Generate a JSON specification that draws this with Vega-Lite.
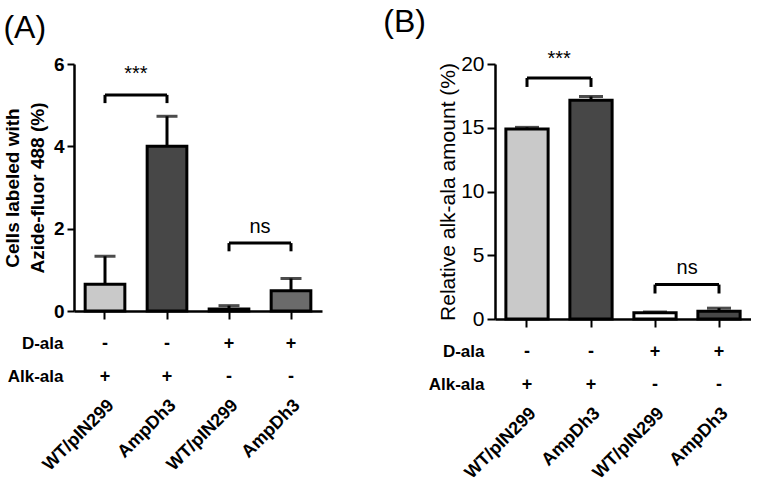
{
  "$schema": "https://vega.github.io/schema/vega-lite/v6.json",
  "padding": {"left": 3, "top": 5, "right": 0, "bottom": 0},
  "background": "white",
  "config": {
    "view": {"stroke": null},
    "font": "Liberation Sans",
    "axis": {"grid": false, "labelColor": "black", "titleColor": "black", "domainColor": "black", "tickColor": "black", "labelFont": "Liberation Sans", "titleFont": "Liberation Sans"},
    "title": {"font": "Liberation Sans", "color": "black"}
  },
  "datasets": {
    "barsA": [
      {"id": "g1", "value": 0.65, "err": 1.33},
      {"id": "g2", "value": 4.0, "err": 4.73},
      {"id": "g3", "value": 0.05, "err": 0.13},
      {"id": "g4", "value": 0.49, "err": 0.79}
    ],
    "barsB": [
      {"id": "g1", "value": 14.9, "err": 15.03},
      {"id": "g2", "value": 17.15, "err": 17.45},
      {"id": "g3", "value": 0.5, "err": 0.55},
      {"id": "g4", "value": 0.6, "err": 0.85}
    ],
    "sigA": [
      {"x": "g1", "x2": "g2", "y": 5.25, "ylow": 5.05, "ytext": 5.75, "label": "***"},
      {"x": "g3", "x2": "g4", "y": 1.65, "ylow": 1.45, "ytext": 2.05, "label": "ns"}
    ],
    "sigB": [
      {"x": "g1", "x2": "g2", "y": 18.9, "ylow": 18.2, "ytext": 20.4, "label": "***"},
      {"x": "g3", "x2": "g4", "y": 2.7, "ylow": 2.0, "ytext": 4.0, "label": "ns"}
    ],
    "cond": [
      {"id": "g1", "cond": "D-ala", "sign": "-"},
      {"id": "g2", "cond": "D-ala", "sign": "-"},
      {"id": "g3", "cond": "D-ala", "sign": "+"},
      {"id": "g4", "cond": "D-ala", "sign": "+"},
      {"id": "g1", "cond": "Alk-ala", "sign": "+"},
      {"id": "g2", "cond": "Alk-ala", "sign": "+"},
      {"id": "g3", "cond": "Alk-ala", "sign": "-"},
      {"id": "g4", "cond": "Alk-ala", "sign": "-"}
    ]
  },
  "resolve": {"scale": {"x": "independent", "y": "independent", "color": "independent"}},
  "spacing": 61,
  "hconcat": [
    {
      "title": {"text": "(A)", "anchor": "start", "frame": "bounds", "fontSize": 32, "fontWeight": "normal", "offset": 10},
      "spacing": 6,
      "resolve": {"scale": {"x": "independent", "y": "independent"}},
      "vconcat": [
        {
          "width": 248,
          "height": 247,
          "layer": [
            {
              "data": {"name": "barsA"},
              "mark": {"type": "rule", "strokeWidth": 3, "color": "black"},
              "encoding": {
                "x": {"field": "id", "type": "nominal", "scale": {"type": "band", "domain": ["g1", "g2", "g3", "g4"], "paddingInner": 0.36, "paddingOuter": 0.18},
                  "axis": {"labels": false, "title": null, "domainWidth": 2.5, "tickWidth": 2, "tickSize": 8}},
                "y": {"field": "value", "type": "quantitative", "scale": {"domain": [0, 6], "nice": false},
                  "axis": {"values": [0, 2, 4, 6], "title": ["Cells labeled with", "Azide-fluor 488 (%)"], "titleFontSize": 19, "titleFontWeight": "bold", "titleLineHeight": 25, "titlePadding": 6,
                    "labelFontSize": 19, "labelFontWeight": "bold", "labelPadding": 3, "tickSize": 7, "tickWidth": 2, "domainWidth": 2.5}},
                "y2": {"field": "err"}
              }
            },
            {
              "data": {"name": "barsA"},
              "mark": {"type": "bar", "stroke": "black", "strokeWidth": 3},
              "encoding": {
                "x": {"field": "id", "type": "nominal"},
                "y": {"field": "value", "type": "quantitative"},
                "color": {"field": "id", "type": "nominal", "scale": {"domain": ["g1", "g2", "g3", "g4"], "range": ["#c9c9c9", "#474747", "#1a1a1a", "#6b6b6b"]}, "legend": null}
              }
            },
            {
              "data": {"name": "barsA"},
              "mark": {"type": "tick", "color": "black", "thickness": 3, "size": 21},
              "encoding": {
                "x": {"field": "id", "type": "nominal"},
                "y": {"field": "err", "type": "quantitative"}
              }
            },
            {
              "data": {"name": "sigA"},
              "mark": {"type": "rule", "strokeWidth": 3, "color": "black"},
              "encoding": {"x": {"field": "x", "type": "nominal"}, "x2": {"field": "x2"}, "y": {"field": "y", "type": "quantitative"}}
            },
            {
              "data": {"name": "sigA"},
              "mark": {"type": "rule", "strokeWidth": 3, "color": "black"},
              "encoding": {"x": {"field": "x", "type": "nominal"}, "y": {"field": "ylow", "type": "quantitative"}, "y2": {"field": "y"}}
            },
            {
              "data": {"name": "sigA"},
              "mark": {"type": "rule", "strokeWidth": 3, "color": "black"},
              "encoding": {"x": {"field": "x2", "type": "nominal"}, "y": {"field": "ylow", "type": "quantitative"}, "y2": {"field": "y"}}
            },
            {
              "data": {"name": "sigA"},
              "mark": {"type": "text", "fontSize": 20, "color": "black", "baseline": "middle"},
              "encoding": {"x": {"field": "x", "type": "nominal", "bandPosition": 1.28}, "y": {"field": "ytext", "type": "quantitative"}, "text": {"field": "label"}}
            }
          ]
        },
        {
          "width": 248,
          "height": 66,
          "data": {"name": "cond"},
          "mark": {"type": "text", "fontSize": 18, "fontWeight": "bold", "color": "black"},
          "encoding": {
            "x": {"field": "id", "type": "nominal", "scale": {"type": "band", "domain": ["g1", "g2", "g3", "g4"], "paddingInner": 0.36, "paddingOuter": 0.18},
              "axis": {"title": null, "ticks": false, "domain": false, "labelAngle": -45, "labelFontSize": 18, "labelFontWeight": "bold", "labelPadding": 3,
                "labelExpr": "datum.value == 'g1' || datum.value == 'g3' ? 'WT/pIN299' : 'AmpDh3'"}},
            "y": {"field": "cond", "type": "nominal", "sort": ["D-ala", "Alk-ala"],
              "axis": {"title": null, "ticks": false, "domain": false, "labelFontSize": 17, "labelFontWeight": "bold", "labelPadding": 11}},
            "text": {"field": "sign"}
          }
        }
      ]
    },
    {
      "title": {"text": "(B)", "anchor": "start", "frame": "bounds", "fontSize": 32, "fontWeight": "normal", "offset": 10, "dx": -45},
      "spacing": 6,
      "resolve": {"scale": {"x": "independent", "y": "independent"}},
      "vconcat": [
        {
          "width": 256,
          "height": 255,
          "layer": [
            {
              "data": {"name": "barsB"},
              "mark": {"type": "rule", "strokeWidth": 3, "color": "black"},
              "encoding": {
                "x": {"field": "id", "type": "nominal", "scale": {"type": "band", "domain": ["g1", "g2", "g3", "g4"], "paddingInner": 0.34, "paddingOuter": 0.17},
                  "axis": {"labels": false, "title": null, "domainWidth": 2.5, "tickWidth": 2, "tickSize": 8}},
                "y": {"field": "value", "type": "quantitative", "scale": {"domain": [0, 20], "nice": false},
                  "axis": {"values": [0, 5, 10, 15, 20], "title": "Relative alk-ala amount (%)", "titleFontSize": 21, "titleFontWeight": "normal", "titlePadding": 2,
                    "labelFontSize": 21, "labelFontWeight": "normal", "labelPadding": 3, "tickSize": 8, "tickWidth": 2, "domainWidth": 2.5}},
                "y2": {"field": "err"}
              }
            },
            {
              "data": {"name": "barsB"},
              "mark": {"type": "bar", "stroke": "black", "strokeWidth": 3},
              "encoding": {
                "x": {"field": "id", "type": "nominal"},
                "y": {"field": "value", "type": "quantitative"},
                "color": {"field": "id", "type": "nominal", "scale": {"domain": ["g1", "g2", "g3", "g4"], "range": ["#c9c9c9", "#474747", "#ffffff", "#474747"]}, "legend": null}
              }
            },
            {
              "data": {"name": "barsB"},
              "mark": {"type": "tick", "color": "black", "thickness": 3, "size": 24},
              "encoding": {
                "x": {"field": "id", "type": "nominal"},
                "y": {"field": "err", "type": "quantitative"}
              }
            },
            {
              "data": {"name": "sigB"},
              "mark": {"type": "rule", "strokeWidth": 3, "color": "black"},
              "encoding": {"x": {"field": "x", "type": "nominal"}, "x2": {"field": "x2"}, "y": {"field": "y", "type": "quantitative"}}
            },
            {
              "data": {"name": "sigB"},
              "mark": {"type": "rule", "strokeWidth": 3, "color": "black"},
              "encoding": {"x": {"field": "x", "type": "nominal"}, "y": {"field": "ylow", "type": "quantitative"}, "y2": {"field": "y"}}
            },
            {
              "data": {"name": "sigB"},
              "mark": {"type": "rule", "strokeWidth": 3, "color": "black"},
              "encoding": {"x": {"field": "x2", "type": "nominal"}, "y": {"field": "ylow", "type": "quantitative"}, "y2": {"field": "y"}}
            },
            {
              "data": {"name": "sigB"},
              "mark": {"type": "text", "fontSize": 20, "color": "black", "baseline": "middle"},
              "encoding": {"x": {"field": "x", "type": "nominal", "bandPosition": 1.26}, "y": {"field": "ytext", "type": "quantitative"}, "text": {"field": "label"}}
            }
          ]
        },
        {
          "width": 256,
          "height": 66,
          "data": {"name": "cond"},
          "mark": {"type": "text", "fontSize": 18, "fontWeight": "bold", "color": "black"},
          "encoding": {
            "x": {"field": "id", "type": "nominal", "scale": {"type": "band", "domain": ["g1", "g2", "g3", "g4"], "paddingInner": 0.34, "paddingOuter": 0.17},
              "axis": {"title": null, "ticks": false, "domain": false, "labelAngle": -45, "labelFontSize": 18, "labelFontWeight": "bold", "labelPadding": 3,
                "labelExpr": "datum.value == 'g1' || datum.value == 'g3' ? 'WT/pIN299' : 'AmpDh3'"}},
            "y": {"field": "cond", "type": "nominal", "sort": ["D-ala", "Alk-ala"],
              "axis": {"title": null, "ticks": false, "domain": false, "labelFontSize": 17, "labelFontWeight": "bold", "labelPadding": 11}},
            "text": {"field": "sign"}
          }
        }
      ]
    }
  ]
}
